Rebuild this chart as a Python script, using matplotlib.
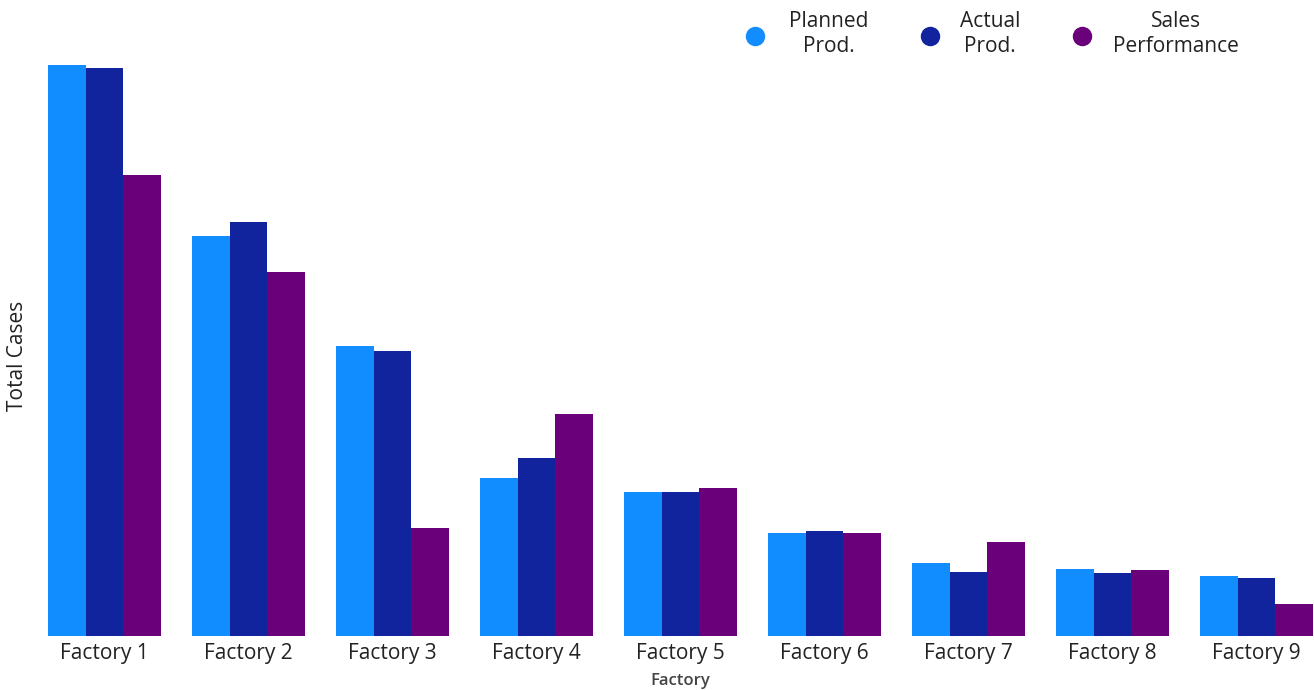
import matplotlib.pyplot as plt
import numpy as np
from matplotlib.lines import Line2D

plt.rcParams["font.family"] = ["Open Sans", "DejaVu Sans"]

factories = [f"Factory {i}" for i in range(1, 10)]
planned = [571, 400, 290, 158, 144, 103, 73, 67, 60]
actual = [568, 414, 285, 178, 144, 105, 64, 63, 58]
sales = [461, 364, 108, 222, 148, 103, 94, 66, 32]

series = [
    ("Planned\nProd.", planned, "#118DFF"),
    ("Actual\nProd.", actual, "#12239E"),
    ("Sales\nPerformance", sales, "#6B007B"),
]

W, H = 1314, 690
fig = plt.figure(figsize=(W / 100, H / 100), dpi=100)
ax = fig.add_axes([32 / W, 54 / H, 1282 / W, 580 / H])

x = np.arange(len(factories))
width = 0.261
for i, (name, vals, color) in enumerate(series):
    ax.bar(x + (i - 1) * width, vals, width, color=color, edgecolor="none")

ax.set_xlim(-0.503, 8.4)
ax.set_ylim(0, 580)
ax.set_xticks(x)
ax.set_xticklabels(factories, fontsize=15, color="#222222")
ax.tick_params(axis="x", length=0, pad=5)
ax.set_yticks([])
for s in ax.spines.values():
    s.set_visible(False)

fig.text(18 / W, 1 - 356 / H, "Total Cases", rotation=90, fontsize=15,
         color="#222222", ha="center", va="center")
fig.text(680 / W, 1 - 681 / H, "Factory", fontsize=12, color="#444444",
         fontweight="semibold", ha="center", va="center")

# legend: circle marker with a centred two-line label
marker_x = [755, 930, 1082]
label_x = [829, 990, 1176]
for (name, _, color), mx, lx in zip(series, marker_x, label_x):
    fig.add_artist(Line2D([mx / W], [1 - 36 / H], marker="o", markersize=14,
                          markerfacecolor=color, markeredgecolor="none",
                          linestyle="none", transform=fig.transFigure))
    fig.text(lx / W, 1 - 34 / H, name, fontsize=15, color="#222222",
             ha="center", va="center", multialignment="center",
             linespacing=1.25)

fig.savefig("out.png", dpi=100)
